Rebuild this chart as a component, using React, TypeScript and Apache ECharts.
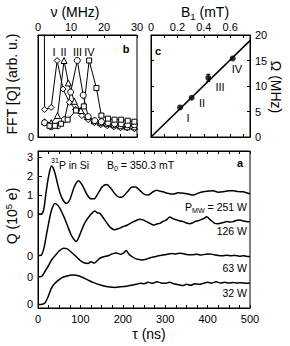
import React, { useEffect, useRef } from 'react';
import * as echarts from 'echarts';

const FONT = '"Liberation Sans", Arial, Helvetica, sans-serif';

// ---------- panel b: FFT spectra (nu in MHz, amplitude arb. u.) ----------
const fftI = [[1.9, 140], [2.0, 27], [4.0, 29], [5.8, 75], [7.6, 47], [9.5, 34], [11.4, 27], [13.3, 21], [15.2, 17], [17.1, 14], [19.0, 12], [21.0, 11], [23.0, 10], [25.0, 9], [27.0, 9], [29.2, 8]];
const fftII = [[2.0, 15], [4.0, 14], [5.9, 21], [7.9, 75], [9.2, 53], [11.0, 35], [13.0, 26], [15.0, 20], [17.0, 16], [19.0, 14], [21.0, 13], [23.0, 12], [25.0, 11], [27.0, 10], [29.2, 10]];
const fftIII = [[2.0, 14], [4.0, 10], [6.0, 11], [8.0, 17], [9.9, 44], [11.9, 75], [13.7, 41], [15.2, 20], [17.2, 16], [19.2, 15], [21.2, 14], [23.2, 13], [25.2, 13], [27.2, 12], [29.2, 12]];
const fftIV = [[3.5, 11], [5.1, 11], [7.0, 13], [9.0, 17], [11.5, 26], [13.9, 30], [15.5, 75], [17.7, 48], [19.2, 21], [21.2, 18], [23.2, 17], [25.2, 17], [27.2, 16], [29.2, 15]];
const fftLabels = ['I', 'II', 'III', 'IV'];

// ---------- panel c: Rabi frequency vs B1 ----------
const rabiPoints = [[0.22, 5.8], [0.308, 7.7], [0.434, 11.6], [0.619, 15.4]];
const rabiErr = [[0.434, 10.9, 12.3]];
const rabiFit = [[0, 0], [0.75, 18.9]];

// ---------- panel a: charge transients, tau (ns) vs Q (1e5 e) ----------
const trace251 = [[0, 0], [5, 0], [10, 0.03], [14, 0.3], [20, 1.3], [26, 2.1], [32, 2.53], [38, 2.3], [45, 1.7], [52, 1.1], [60, 0.7], [67, 0.56], [75, 0.75], [85, 1.4], [95, 1.75], [105, 1.5], [115, 1.05], [125, 0.8], [132, 0.8], [142, 1.1], [152, 1.45], [162, 1.55], [172, 1.35], [182, 1.05], [192, 0.88], [200, 0.92], [212, 1.2], [222, 1.42], [230, 1.42], [240, 1.25], [250, 1.05], [260, 1.0], [270, 1.15], [280, 1.25], [288, 1.2], [295, 1.17], [305, 1.1], [319, 1.05], [330, 1.12], [343, 1.1], [355, 1.05], [366, 1.0], [378, 1.1], [390, 1.17], [400, 1.2], [413, 1.23], [425, 1.15], [437, 1.17], [450, 1.22], [461, 1.23], [472, 1.18], [484, 1.17], [492, 1.12], [500, 1.07]];
const trace126 = [[0, 0], [5, 0], [10, 0.1], [15, 0.5], [20, 1.1], [25, 1.7], [32, 2.4], [40, 2.75], [48, 2.62], [55, 2.35], [62, 2.0], [70, 1.55], [78, 1.1], [85, 0.85], [90, 0.74], [96, 0.95], [103, 1.35], [111, 1.75], [120, 2.05], [128, 2.25], [134, 2.35], [140, 2.25], [146, 2.22], [152, 2.05], [160, 1.8], [170, 1.5], [180, 1.36], [190, 1.42], [200, 1.52], [210, 1.6], [222, 1.75], [232, 1.85], [240, 1.92], [248, 1.88], [256, 1.79], [264, 1.7], [272, 1.61], [280, 1.66], [287, 1.7], [295, 1.8], [303, 1.88], [311, 2.03], [318, 1.95], [327, 1.88], [335, 1.82], [343, 1.79], [350, 1.72], [358, 1.68], [364, 1.72], [370, 1.79], [378, 1.84], [386, 1.91], [392, 1.96], [398, 2.05], [405, 1.91], [411, 1.8], [417, 1.7], [423, 1.68], [429, 1.7], [437, 1.74], [445, 1.79], [453, 1.77], [461, 1.79], [467, 1.85], [473, 1.88], [479, 1.86], [484, 1.82], [490, 1.8], [495, 1.78], [500, 1.79]];
const trace63 = [[0, 0], [5, 0], [10, 0.05], [16, 0.26], [25, 0.6], [32, 0.88], [40, 1.1], [50, 1.35], [60, 1.5], [68, 1.48], [78, 1.3], [88, 1.1], [100, 0.85], [110, 0.72], [118, 0.7], [125, 0.78], [133, 0.72], [140, 0.85], [146, 0.97], [155, 1.05], [165, 1.1], [175, 1.2], [185, 1.25], [195, 1.18], [202, 1.25], [208, 1.38], [214, 1.2], [222, 1.05], [230, 0.95], [238, 0.9], [245, 0.88], [255, 0.92], [265, 1.0], [275, 1.05], [285, 1.1], [295, 1.14], [305, 1.18], [315, 1.22], [325, 1.2], [335, 1.23], [345, 1.2], [355, 1.15], [365, 1.16], [375, 1.18], [385, 1.14], [395, 1.18], [405, 1.2], [415, 1.16], [425, 1.12], [435, 1.1], [445, 1.13], [455, 1.1], [465, 1.12], [475, 1.08], [485, 1.1], [495, 1.06], [500, 1.05]];
const trace32 = [[0, 0], [5, -0.02], [10, 0], [16, 0.05], [24, 0.4], [32, 0.86], [40, 1.1], [50, 1.3], [60, 1.43], [70, 1.5], [80, 1.54], [90, 1.52], [100, 1.46], [110, 1.36], [120, 1.25], [130, 1.15], [146, 1.02], [158, 0.95], [170, 0.9], [182, 0.88], [195, 0.92], [208, 0.95], [220, 1.0], [232, 1.05], [242, 1.1], [250, 1.08], [260, 1.15], [270, 1.1], [280, 1.18], [290, 1.12], [300, 1.1], [310, 1.15], [320, 1.08], [332, 1.02], [343, 0.98], [350, 1.05], [360, 1.0], [370, 1.08], [380, 1.05], [390, 1.1], [400, 1.15], [410, 1.12], [420, 1.18], [430, 1.12], [440, 1.15], [450, 1.12], [460, 1.14], [470, 1.12], [480, 1.13], [490, 1.1], [500, 1.12]];
const traceOffsets = [0, -2.19, -3.3, -4.75];
const powerLabels = ['251 W', '126 W', '63 W', '32 W'];

// ---------- tick values ----------
const ticksB = [0, 5, 10, 15, 20, 25, 30];
const labelsB = [0, 10, 20, 30];
const ticksCx = [0, 0.1, 0.2, 0.3, 0.4, 0.5, 0.6, 0.7];
const labelsCx = [0, 0.2, 0.4, 0.6];
const ticksCy = [0, 5, 10, 15, 20];
const ticksA = [0, 25, 50, 75, 100, 125, 150, 175, 200, 225, 250, 275, 300, 325, 350, 375, 400, 425, 450, 475, 500];
const labelsA = [0, 100, 200, 300, 400, 500];
const labelsAy = [3, 2, 1, 0];

function axis(o: any) {
  return {
    type: 'value',
    splitLine: { show: false },
    axisLine: { show: true, onZero: false, lineStyle: { color: '#000', width: 1 } },
    ...o,
    axisTick: { show: true, inside: true, length: 3, lineStyle: { color: '#000', width: 1 }, ...(o.axisTick || {}) },
    axisLabel: { color: '#000', fontSize: 11, fontFamily: FONT, ...(o.axisLabel || {}) },
  };
}

function txt(x: number, y: number, text: string, size: number, o: any = {}) {
  const align = o.align || 'center';
  return {
    type: 'text',
    x,
    y,
    rotation: o.rot || 0,
    z: 100,
    style: {
      text,
      fill: '#000',
      fontSize: size,
      fontFamily: FONT,
      fontWeight: o.bold ? 'bold' : 'normal',
      align,
      textAlign: align,
      verticalAlign: 'middle',
      textVerticalAlign: 'middle',
      rich: o.rich,
    },
  };
}

function rich(size: number) {
  return {
    n: { fontSize: size, fontFamily: FONT, lineHeight: size + 4, verticalAlign: 'middle' },
    sup: { fontSize: size * 0.68, fontFamily: FONT, verticalAlign: 'top' },
    sub: { fontSize: size * 0.68, fontFamily: FONT, verticalAlign: 'bottom' },
  };
}

const openSym = (symbol: string, data: number[][]) => ({
  type: 'line',
  xAxisIndex: 0,
  yAxisIndex: 0,
  data,
  symbol,
  symbolSize: symbol === 'rect' ? 5 : 6,
  showAllSymbol: true,
  lineStyle: { color: '#000', width: 1 },
  itemStyle: { color: '#fff', borderColor: '#000', borderWidth: 1 },
  clip: true,
});

export default function App() {
  const ref = useRef<HTMLDivElement>(null);
  useEffect(() => {
    const chart = echarts.init(ref.current!, null, { renderer: 'svg' });
    const traces = [trace251, trace126, trace63, trace32];
    const option: any = {
      animation: false,
      backgroundColor: '#fff',
      grid: [
        { left: 38, top: 35, width: 99, height: 102, show: true, borderColor: '#000', borderWidth: 1 },
        { left: 151, top: 35, width: 99, height: 102, show: true, borderColor: '#000', borderWidth: 1 },
        { left: 38, top: 151, width: 212, height: 157, show: true, borderColor: '#000', borderWidth: 1 },
      ],
      xAxis: [
        axis({ gridIndex: 0, position: 'top', min: 0, max: 30, axisTick: { customValues: ticksB }, axisLabel: { customValues: labelsB, margin: 3 } }),
        axis({ gridIndex: 0, position: 'bottom', min: 0, max: 30, axisTick: { customValues: ticksB }, axisLabel: { show: false } }),
        axis({ gridIndex: 1, position: 'top', min: 0, max: 0.75, axisTick: { customValues: ticksCx }, axisLabel: { customValues: labelsCx, margin: 3, formatter: (v: number) => (v === 0 ? '0' : v.toFixed(1)) } }),
        axis({ gridIndex: 1, position: 'bottom', min: 0, max: 0.75, axisTick: { customValues: ticksCx }, axisLabel: { show: false } }),
        axis({ gridIndex: 2, position: 'bottom', min: 0, max: 500, axisTick: { customValues: ticksA }, axisLabel: { customValues: labelsA, margin: 5 } }),
        axis({ gridIndex: 2, position: 'top', min: 0, max: 500, axisTick: { customValues: ticksA }, axisLabel: { show: false } }),
      ],
      yAxis: [
        axis({ gridIndex: 0, position: 'left', min: 0, max: 100, axisTick: { show: false }, axisLabel: { customValues: [0], margin: 4 } }),
        axis({ gridIndex: 1, position: 'right', min: 0, max: 20, axisTick: { customValues: ticksCy }, axisLabel: { customValues: ticksCy, margin: 5 } }),
        axis({ gridIndex: 1, position: 'left', min: 0, max: 20, axisTick: { customValues: ticksCy }, axisLabel: { show: false } }),
        axis({
          gridIndex: 2, position: 'left', min: -4.95, max: 3.32,
          axisTick: { customValues: [...labelsAy, ...traceOffsets.slice(1)], length: 4 },
          axisLabel: { customValues: [...labelsAy, ...traceOffsets.slice(1)], margin: 5, formatter: (v: number) => (v >= 0 ? String(Math.round(v)) : '0') },
        }),
      ],
      series: [
        openSym('diamond', fftI),
        openSym('triangle', fftII),
        openSym('circle', fftIII),
        openSym('rect', fftIV),
        {
          type: 'line', xAxisIndex: 2, yAxisIndex: 1, data: rabiFit, symbol: 'none',
          lineStyle: { color: '#000', width: 1.6 },
        },
        {
          type: 'custom', xAxisIndex: 2, yAxisIndex: 1, data: rabiErr,
          renderItem: (_p: any, api: any) => {
            const lo = api.coord([api.value(0), api.value(1)]);
            const hi = api.coord([api.value(0), api.value(2)]);
            const st = { stroke: '#000', lineWidth: 1 };
            return {
              type: 'group',
              children: [
                { type: 'line', shape: { x1: lo[0], y1: lo[1], x2: hi[0], y2: hi[1] }, style: st },
                { type: 'line', shape: { x1: hi[0] - 2, y1: hi[1], x2: hi[0] + 2, y2: hi[1] }, style: st },
                { type: 'line', shape: { x1: lo[0] - 2, y1: lo[1], x2: lo[0] + 2, y2: lo[1] }, style: st },
              ],
            };
          },
        },
        {
          type: 'scatter', xAxisIndex: 2, yAxisIndex: 1, data: rabiPoints, symbol: 'circle', symbolSize: 6,
          itemStyle: { color: '#000' },
        },
        ...traces.map((tr, i) => ({
          type: 'line', xAxisIndex: 4, yAxisIndex: 3, symbol: 'none', smooth: 0.3,
          data: tr.map(([t, q]) => [t, q + traceOffsets[i]]),
          lineStyle: { color: '#000', width: 1.5 },
        })),
      ],
      graphic: [
        // panel titles
        txt(75, 12, 'ν (MHz)', 14),
        txt(205, 12, '{n|B}{sub|1}{n| (mT)}', 14, { rich: rich(14) }),
        txt(12, 84, 'FFT [Q] (arb. u.)', 14, { rot: Math.PI / 2 }),
        txt(276, 87, 'Ω (MHz)', 14, { rot: -Math.PI / 2 }),
        txt(12, 216, '{n|Q (10}{sup|5}{n| e)}', 14, { rot: Math.PI / 2, rich: rich(14) }),
        txt(149, 334, 'τ (ns)', 14),
        // panel letters
        txt(126, 49, 'b', 11, { bold: true }),
        txt(158, 51, 'c', 11, { bold: true }),
        txt(240, 163, 'a', 11, { bold: true }),
        // panel b labels
        txt(54, 52, fftLabels[0], 11),
        txt(63.5, 52, fftLabels[1], 11),
        txt(77.5, 52, fftLabels[2], 11),
        txt(89.5, 52, fftLabels[3], 11),
        // panel c labels
        txt(188, 118, fftLabels[0], 11),
        txt(202, 103, fftLabels[1], 11),
        txt(220, 87, fftLabels[2], 11),
        txt(237, 69, fftLabels[3], 11),
        // panel a annotations
        txt(51, 165, '{sup|31}{n|P in Si}', 10.5, { align: 'left', rich: rich(10.5) }),
        txt(107, 165, '{n|B}{sub|0}{n| = 350.3 mT}', 10.5, { align: 'left', rich: rich(10.5) }),
        txt(247, 207, '{n|P}{sub|MW}{n| = ' + powerLabels[0] + '}', 10.5, { align: 'right', rich: rich(10.5) }),
        txt(247, 231, powerLabels[1], 10.5, { align: 'right' }),
        txt(247, 268, powerLabels[2], 10.5, { align: 'right' }),
        txt(247, 293, powerLabels[3], 10.5, { align: 'right' }),
      ],
    };
    chart.setOption(option);
    return () => chart.dispose();
  }, []);
  return <div ref={ref} style={{ position: 'absolute', left: 0, top: 0, width: 290, height: 346 }} />;
}
